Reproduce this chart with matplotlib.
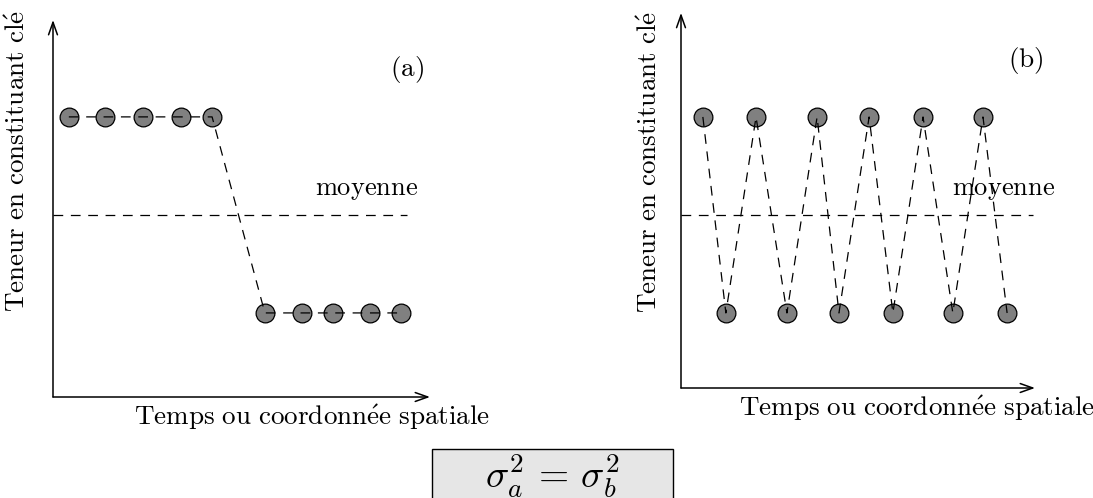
import numpy as np
import matplotlib
matplotlib.use('Agg')
import matplotlib.pyplot as plt
from matplotlib.patches import Rectangle

plt.rcParams['mathtext.fontset'] = 'cm'
plt.rcParams['lines.scale_dashes'] = False

## Data (units along the drawn axes)
# panel (a): five high values then five low values
a_x = [0.42, 1.38, 2.39, 3.40, 4.22, 5.62, 6.60, 7.43, 8.41, 9.23]
a_y = [7.43, 7.43, 7.43, 7.43, 7.43, 2.23, 2.23, 2.23, 2.23, 2.23]
a_mean = 4.83
a_mean_end = 9.39
# panel (b): alternating high / low values
b_x = [0.58, 1.19, 1.99, 2.81, 3.61, 4.19, 4.99, 5.62, 6.42, 7.21, 8.01, 8.65]
b_y = [7.19, 1.99, 7.19, 1.99, 7.19, 1.99, 7.19, 1.99, 7.19, 1.99, 7.19, 1.99]
b_mean = 4.59
b_mean_end = 9.34

xlabel = r'$\mathrm{Temps\ ou\ coordonn\acute{e}e\ spatiale}$'
ylabel = r'$\mathrm{Teneur\ en\ constituant\ cl\acute{e}}$'
mean_label = r'$\mathrm{moyenne}$'

W, H = 1093, 498
S = 37.7  # pixels per unit
fig = plt.figure(figsize=(W / 100, H / 100), dpi=100)


def panel(ox, oy, x0=-0.6, x1=10.8, y0=-0.6, y1=10.3):
    ax = fig.add_axes([(ox + x0 * S) / W, (H - oy + y0 * S) / H,
                       (x1 - x0) * S / W, (y1 - y0) * S / H])
    ax.set_xlim(x0, x1)
    ax.set_ylim(y0, y1)
    ax.axis('off')
    return ax


dash = (7, 5.5)
arrow = dict(arrowstyle='->,head_length=0.9,head_width=0.32', lw=1.1,
             color='black', shrinkA=0, shrinkB=0)
fs = 19.5


def draw(ax, xs, ys, mean, mean_end, xlen, ylen, tag, lab_x, lab_y, moy_x):
    ax.annotate('', xy=(xlen, 0), xytext=(0, 0), arrowprops=arrow)
    ax.annotate('', xy=(0, ylen), xytext=(0, 0), arrowprops=arrow)
    ax.plot(xs, ys, 'o', ms=13.5, mfc='#808080', mec='black', mew=0.9, zorder=2)
    ax.plot(xs, ys, color='black', lw=0.9, dashes=dash, zorder=3)
    ax.plot([0, mean_end], [mean, mean], color='black', lw=0.9, dashes=dash)
    ax.text(moy_x, mean + 0.35, mean_label, fontsize=19, ha='right', va='bottom')
    ax.text(lab_x, 8.7, tag, fontsize=fs, ha='center', va='center')
    ax.text(lab_y, -0.55, xlabel, fontsize=fs, ha='center', va='center')


ax_a = panel(53, 397)
draw(ax_a, a_x, a_y, a_mean, a_mean_end, 10.0, 10.0, r'$\mathrm{(a)}$', 9.38, 6.87, 9.68)
ax_a.text(-0.93, 6.27, ylabel, fontsize=fs, rotation=90, ha='center', va='center')

ax_b = panel(681, 388)
draw(ax_b, b_x, b_y, b_mean, b_mean_end, 9.39, 9.95, r'$\mathrm{(b)}$', 9.14, 6.26, 9.92)
ax_b.text(-0.82, 6.0, ylabel, fontsize=fs, rotation=90, ha='center', va='center')

# variance box
fig.patches.append(Rectangle((432 / W, -0.05), 241 / W, 0.05 + 49 / H,
                             transform=fig.transFigure, fc='#e6e6e6', ec='black',
                             lw=1.0, zorder=0))
fig.text(552 / W, 1 - 476 / H, r'$\sigma_a^2\, =\, \sigma_b^2$', fontsize=28,
         ha='center', va='center')

fig.savefig('out.png', dpi=100)
